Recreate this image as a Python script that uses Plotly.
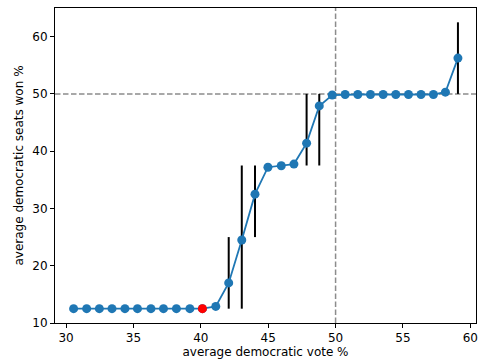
import plotly.graph_objects as go

vote = [30.56, 31.53, 32.47, 33.41, 34.37, 35.30, 36.30, 37.23, 38.19, 39.19,
        40.12, 41.11, 42.07, 43.04, 44.02, 44.98, 45.97, 46.91, 47.85, 48.79,
        49.75, 50.71, 51.65, 52.59, 53.53, 54.47, 55.41, 56.34, 57.26, 58.15, 59.08]
seats = [12.5, 12.5, 12.5, 12.5, 12.5, 12.5, 12.5, 12.5, 12.5, 12.5,
         12.5, 12.9, 17.0, 24.5, 32.5, 37.2, 37.45, 37.75, 41.4, 47.9,
         49.8, 49.9, 49.9, 49.9, 49.9, 49.9, 49.9, 49.9, 49.9, 50.3, 56.25]
seats_min = [12.5, 12.5, 12.5, 12.5, 12.5, 12.5, 12.5, 12.5, 12.5, 12.5,
             12.5, 12.9, 12.5, 12.5, 25.0, 37.2, 37.45, 37.75, 37.5, 37.5,
             49.8, 49.9, 49.9, 49.9, 49.9, 49.9, 49.9, 49.9, 49.9, 50.3, 50.0]
seats_max = [12.5, 12.5, 12.5, 12.5, 12.5, 12.5, 12.5, 12.5, 12.5, 12.5,
             12.5, 12.9, 25.0, 37.5, 37.5, 37.2, 37.45, 37.75, 50.0, 50.0,
             49.8, 49.9, 49.9, 49.9, 49.9, 49.9, 49.9, 49.9, 49.9, 50.3, 62.5]
highlight_vote = [40.12]
highlight_seats = [12.5]
x_ticks = [30, 35, 40, 45, 50, 55, 60]
y_ticks = [10, 20, 30, 40, 50, 60]

err_plus = [hi - s for hi, s in zip(seats_max, seats)]
err_minus = [s - lo for lo, s in zip(seats_min, seats)]

fig = go.Figure()
fig.add_shape(type="line", xref="paper", yref="y", x0=0, x1=1, y0=50, y1=50,
              line=dict(color="#8c8c8c", width=1.5, dash="5.5px,2.5px"), layer="below")
fig.add_shape(type="line", xref="x", yref="paper", x0=50, x1=50, y0=0, y1=1,
              line=dict(color="#8c8c8c", width=1.5, dash="5.5px,2.5px"), layer="below")
fig.add_trace(go.Scatter(
    x=vote, y=seats, mode="lines+markers",
    line=dict(color="#1f77b4", width=1.8),
    marker=dict(color="#1f77b4", size=9),
    error_y=dict(type="data", symmetric=False, array=err_plus, arrayminus=err_minus,
                 color="black", thickness=2, width=0),
    showlegend=False))
fig.add_trace(go.Scatter(
    x=highlight_vote, y=highlight_seats, mode="markers",
    marker=dict(color="red", size=9), showlegend=False))

axis_common = dict(showline=True, mirror=True, linecolor="black", linewidth=1,
                   ticks="outside", ticklen=4, tickcolor="black", showgrid=False,
                   zeroline=False, automargin=False,
                   tickfont=dict(family="DejaVu Sans", size=12, color="black"))
fig.update_xaxes(range=[29.18, 60.42], tickvals=x_ticks,
                 title=dict(text="average democratic vote %", standoff=2,
                            font=dict(family="DejaVu Sans", size=12, color="black")),
                 **axis_common)
fig.update_yaxes(range=[10, 65], tickvals=y_ticks,
                 title=dict(text="average democratic seats won %", standoff=6,
                            font=dict(family="DejaVu Sans", size=12, color="black")),
                 **axis_common)
fig.update_layout(width=478, height=364, margin=dict(l=55, r=2, t=8, b=41),
                  plot_bgcolor="white", paper_bgcolor="white", hovermode=False)
fig.write_html("out.html", config={"displayModeBar": False, "staticPlot": True},
               post_script="document.body.style.margin='0';document.body.style.overflow='hidden';")
